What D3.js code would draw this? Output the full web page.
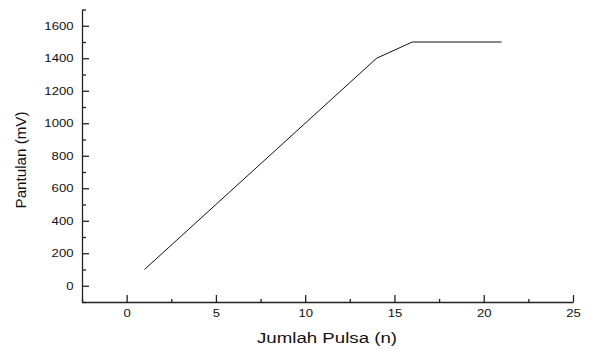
<!DOCTYPE html>
<html>
<head>
<meta charset="utf-8">
<script src="https://cdn.jsdelivr.net/npm/d3@7"></script>
<style>
  body { margin: 0; background: #fff; }
  svg text { font-family: "Liberation Sans", Arial, sans-serif; fill: #111; }
</style>
</head>
<body>
<div id="chart"></div>
<script>
//Datos
const pulsa = [1, 14, 16, 21];
const pantulan = [100, 1400, 1500, 1500];
const xTicks = [0, 5, 10, 15, 20, 25];
const yTicks = [0, 200, 400, 600, 800, 1000, 1200, 1400, 1600];

const W = 591, H = 350;
let margin = {top: 9.5, right: 18, bottom: 48, left: 82},
    width = W - margin.left - margin.right,
    height = H - margin.top - margin.bottom;

let root = d3.select('#chart').append('svg')
    .attr('width', W).attr('height', H);

let svg = root.append('g')
    .attr('transform', 'translate(' + margin.left + ',' + margin.top + ')');

let x = d3.scaleLinear().domain([-2.5, 25]).range([0, width]);
let y = d3.scaleLinear().domain([-100, 1700]).range([height, 0]);

//Minor ticks
svg.append('g')
    .attr('transform', 'translate(0,' + height + ')')
    .call(d3.axisBottom(x).tickValues(d3.range(-2.5, 25.1, 2.5).filter(v => v % 5 !== 0)).tickSize(-3).tickFormat(''))
    .call(g => g.select('.domain').remove());
svg.append('g')
    .call(d3.axisLeft(y).tickValues(d3.range(-100, 1701, 200)).tickSize(-4).tickFormat(''))
    .call(g => g.select('.domain').remove());

//Eje X
svg.append('g')
    .attr('class', 'x-axis')
    .attr('transform', 'translate(0,' + height + ')')
    .call(d3.axisBottom(x).tickValues(xTicks).tickSize(-7).tickPadding(8).tickSizeOuter(0).tickFormat(d3.format('d')))
    .call(g => g.selectAll('text')
        .attr('font-size', 10.5)
        .attr('transform', 'scale(1.25,1)'));

//Eje Y
svg.append('g')
    .attr('class', 'y-axis')
    .call(d3.axisLeft(y).tickValues(yTicks).tickSize(-7).tickPadding(8.5).tickSizeOuter(0).tickFormat(d3.format('d')))
    .call(g => g.selectAll('text')
        .attr('font-size', 10.5)
        .attr('x', -8.5 / 1.25)
        .attr('transform', 'scale(1.25,1)'));

svg.selectAll('.domain, .tick line').attr('stroke', '#222').attr('stroke-width', 1.3);

//Linea
let pts = pulsa.map((d, i) => [d, pantulan[i]]);
svg.append('path')
    .datum(pts)
    .attr('fill', 'none')
    .attr('stroke', '#111')
    .attr('stroke-width', 1)
    .attr('d', d3.line().x(d => x(d[0])).y(d => y(d[1])));

//Etiquetas
root.append('text')
    .attr('x', 327)
    .attr('y', 342.5)
    .attr('text-anchor', 'middle')
    .attr('font-size', 14)
    .attr('textLength', 140)
    .attr('lengthAdjust', 'spacingAndGlyphs')
    .text('Jumlah Pulsa (n)');

root.append('text')
    .attr('transform', 'translate(26,160) rotate(-90)')
    .attr('text-anchor', 'middle')
    .attr('font-size', 14)
    .attr('textLength', 97)
    .attr('lengthAdjust', 'spacingAndGlyphs')
    .text('Pantulan (mV)');
</script>
</body>
</html>
